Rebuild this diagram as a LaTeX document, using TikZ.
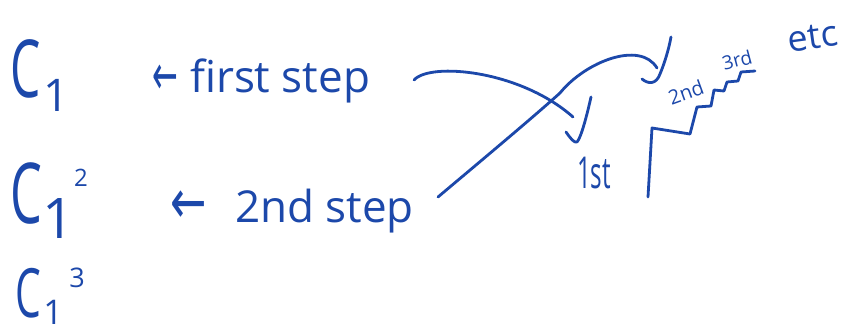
\documentclass[tikz,border=0pt]{standalone}
\usepackage{fontspec}
\usepackage{graphicx}
\setmainfont{Open Sans}
\newfontfamily\symfont{DejaVu Sans}
\definecolor{ink}{RGB}{28,72,170}
\begin{document}
\begin{tikzpicture}[x=1pt,y=-1pt,
  hand/.style={text=ink, inner sep=0pt, outer sep=0pt},
  stroke/.style={draw=ink, line width=2.8pt, line cap=round, line join=round}]
\useasboundingbox (0,0) rectangle (843,334);
\fill[white] (0,0) rectangle (843,334);
% C_1
\node[hand, anchor=base west, font=\fontsize{80}{80}\selectfont] (c1) at (10,98) {\scalebox{0.6}[1]{C}};
\node[hand, anchor=base, font=\fontsize{45}{45}\selectfont] (c1sub) at (56,112) {1};
% C_1^2
\node[hand, anchor=base west, font=\fontsize{84}{84}\selectfont] (c2) at (10,223) {\scalebox{0.6}[1]{C}};
\node[hand, anchor=base, font=\fontsize{56}{56}\selectfont] (c2sub) at (59,238) {1};
\node[hand, font=\fontsize{24}{24}\selectfont] (c2sup) at (81,178) {2};
% C_1^3
\node[hand, anchor=base west, font=\fontsize{68}{68}\selectfont] (c3) at (15,317) {\scalebox{0.6}[1]{C}};
\node[hand, anchor=base, font=\fontsize{34}{34}\selectfont] (c3sub) at (53,324) {1};
\node[hand, font=\fontsize{27}{27}\selectfont] (c3sup) at (77,278) {3};
% step labels
\node[hand, font=\symfont\fontsize{56}{56}\selectfont] (arr1) at (165,80) {\scalebox{0.55}[1]{←}};
\node[hand, anchor=base west, font=\fontsize{44}{44}\selectfont] (step1) at (190,93) {first step};
\node[hand, font=\symfont\fontsize{62}{62}\selectfont] (arr2) at (189,207) {\scalebox{0.7}[1]{←}};
\node[hand, anchor=base west, font=\fontsize{44}{44}\selectfont] (step2) at (235,222) {2nd step};
% staircase
\draw[stroke] (648,197) -- (652,128) -- (690,134) -- (697,107) -- (711,106) -- (714,90) -- (724,91) -- (727,82) -- (738,81) -- (741,72) -- (755,71);
\node[hand, font=\fontsize{44}{44}\selectfont] (l1st) at (594,173) {\scalebox{0.55}[1]{1st}};
\node[hand, rotate=20, font=\fontsize{20}{20}\selectfont] (l2nd) at (686,92) {2nd};
\node[hand, rotate=15, font=\fontsize{19}{19}\selectfont] (l3rd) at (737,60) {3rd};
\node[hand, rotate=8, font=\fontsize{36}{36}\selectfont] (etc) at (813,37) {etc};
% connectors
\coordinate (a1) at (414,80);
\coordinate (b1) at (573,117);
\coordinate (k1a) at (566,132);
\coordinate (k1b) at (577,142);
\coordinate (k1c) at (591,97);
\draw[stroke] (a1) .. controls (430,62) and (520,70) .. (b1);
\draw[stroke] (k1a) .. controls (571,139) and (574,143) .. (k1b) .. controls (581,138) and (587,115) .. (k1c);
\coordinate (a2) at (438,197);
\coordinate (m2) at (560,93);
\coordinate (b2) at (657,68);
\coordinate (k2a) at (642,79);
\coordinate (k2b) at (660,74);
\coordinate (k2c) at (671,37);
\draw[stroke] (a2) .. controls (470,170) and (530,120) .. (m2) .. controls (585,62) and (640,40) .. (b2);
\draw[stroke] (k2a) .. controls (648,84) and (656,85) .. (k2b) .. controls (665,62) and (669,48) .. (k2c);
\end{tikzpicture}
\end{document}
